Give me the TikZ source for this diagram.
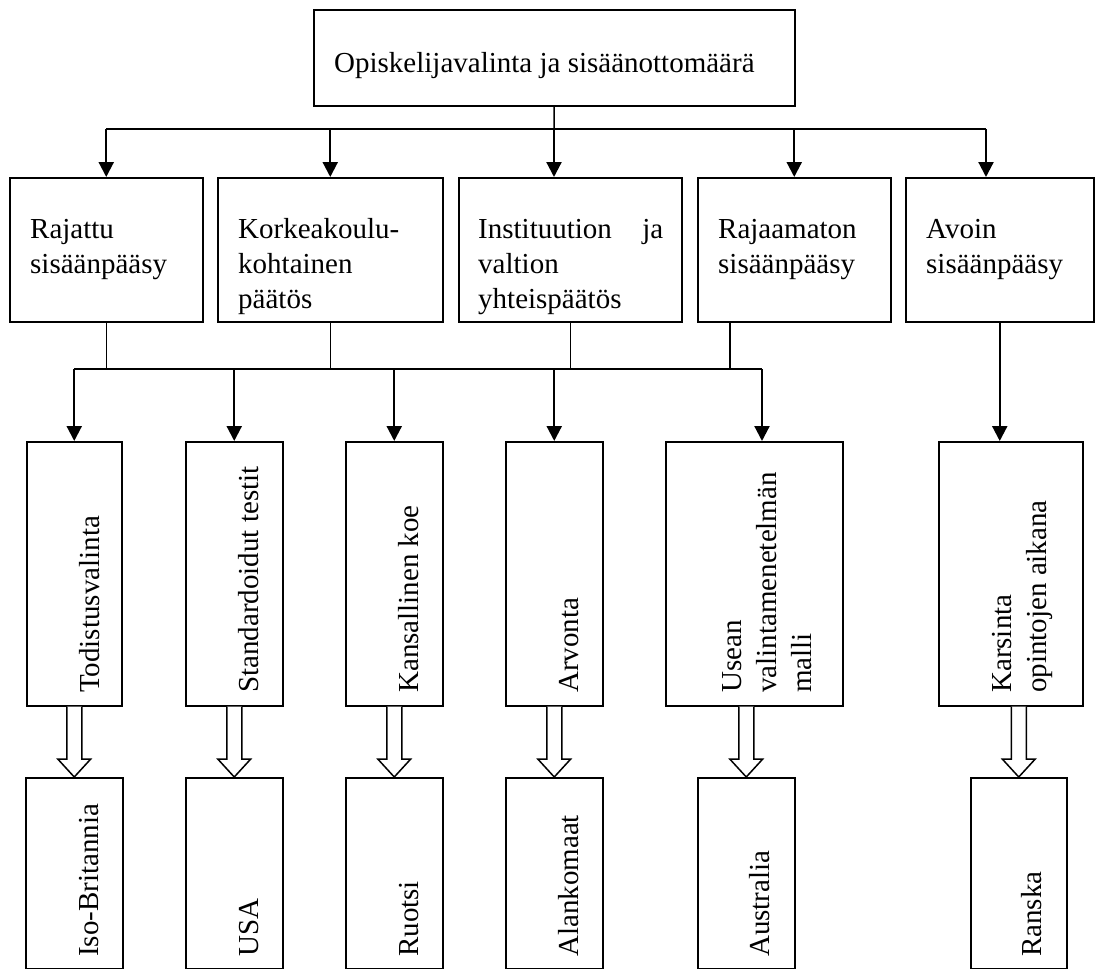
\documentclass[tikz,border=0pt]{standalone}
\usepackage{fontspec}
\setmainfont{Liberation Serif}
\usetikzlibrary{arrows.meta,calc}
\begin{document}
\begin{tikzpicture}[x=1pt,y=-1pt,
  box/.style={draw, line width=1.5pt, inner sep=0, anchor=north west},
  lbl/.style={inner sep=0, anchor=north west, align=left, font=\fontsize{29}{35}\selectfont},
  rlbl/.style={inner sep=0, anchor=base west, rotate=90, font=\fontsize{29}{35}\selectfont},
  rmlbl/.style={inner sep=0, anchor=north west, rotate=90, align=left, font=\fontsize{29}{35}\selectfont},
  conn/.style={line width=1.5pt},
  arr/.style={line width=2.2pt, -{Triangle[length=15pt,width=15pt]}},
  blk/.style={line width=1.5pt, fill=white, line join=miter}
]
\useasboundingbox (0,0) rectangle (1096,969);

% top box
\node[box, minimum width=481pt, minimum height=96pt] (top) at (313,9) {};
\node[inner sep=0, anchor=base west, font=\fontsize{29}{35}\selectfont] (ttop) at (334,72) {Opiskelijavalinta ja sisäänottomäärä};

% middle row
\node[box, minimum width=193pt, minimum height=144pt] (b1) at (9,177) {};
\node[box, minimum width=225pt, minimum height=144pt] (b2) at (217,177) {};
\node[box, minimum width=223pt, minimum height=144pt] (b3) at (458,177) {};
\node[box, minimum width=193pt, minimum height=144pt] (b4) at (697,177) {};
\node[box, minimum width=188pt, minimum height=144pt] (b5) at (905,177) {};
\node[lbl] (t1) at (30,213.5) {\strut Rajattu\\sisäänpääsy};
\node[lbl] (t2) at (238,213.5) {\strut Korkeakoulu-\\kohtainen\\päätös};
\node[lbl, text width=185pt] (t3) at (478,213.5) {\strut Instituution\hfill ja\\valtion\\yhteispäätös};
\node[lbl] (t4) at (718,213.5) {\strut Rajaamaton\\sisäänpääsy};
\node[lbl] (t5) at (926,213.5) {\strut Avoin\\sisäänpääsy};

% tall row
\node[box, minimum width=95pt, minimum height=264pt] (tA) at (26,441) {};
\node[box, minimum width=97pt, minimum height=264pt] (tB) at (185,441) {};
\node[box, minimum width=97pt, minimum height=264pt] (tC) at (345,441) {};
\node[box, minimum width=97pt, minimum height=264pt] (tD) at (505,441) {};
\node[box, minimum width=177pt, minimum height=264pt] (tE) at (665,441) {};
\node[box, minimum width=144pt, minimum height=264pt] (tF) at (938,441) {};
\node[rlbl] (xA) at (99,693) {Todistusvalinta};
\node[rlbl] (xB) at (258,693) {Standardoidut testit};
\node[rlbl] (xC) at (418,693) {Kansallinen koe};
\node[rlbl] (xD) at (578,693) {Arvonta};
\node[rmlbl] (xE) at (716.5,693) {\strut Usean\\valintamenetelmän\\malli};
\node[rmlbl] (xF) at (986.5,693) {\strut Karsinta\\opintojen aikana};

% bottom row
\node[box, minimum width=97pt, minimum height=191pt] (lA) at (25,777) {};
\node[box, minimum width=97pt, minimum height=191pt] (lB) at (185,777) {};
\node[box, minimum width=97pt, minimum height=191pt] (lC) at (345,777) {};
\node[box, minimum width=97pt, minimum height=191pt] (lD) at (505,777) {};
\node[box, minimum width=97pt, minimum height=191pt] (lE) at (697,777) {};
\node[box, minimum width=96pt, minimum height=191pt] (lF) at (970,777) {};
\node[rlbl] (yA) at (98,957) {Iso-Britannia};
\node[rlbl] (yB) at (258,957) {USA};
\node[rlbl] (yC) at (418,957) {Ruotsi};
\node[rlbl] (yD) at (578,957) {Alankomaat};
\node[rlbl] (yE) at (769,957) {Australia};
\node[rlbl] (yF) at (1041,957) {Ranska};

% upper connectors
\coordinate (j0) at (554,129);
\coordinate (j5) at (986,129);
\draw[conn] (top.south) -- (j0);
\draw[conn] (b1.north |- j0) -- (j5);
\draw[arr] (b1.north |- j0) -- (b1.north);
\draw[arr] (b2.north |- j0) -- (b2.north);
\draw[arr] (j0) -- (j0 |- b3.north);
\draw[arr] (b4.north |- j0) -- (b4.north);
\draw[arr] (j5) -- (j5 |- b5.north);

% lower connectors
\coordinate (k0) at (0,369);
\coordinate (k5) at (762,369);
\coordinate (f4) at ($(b4.south west)+(33,0)$);
\draw[conn] (b1.south) -- (b1.south |- k0);
\draw[conn] (b2.south) -- (b2.south |- k0);
\draw[conn] (b3.south) -- (b3.south |- k0);
\draw[conn] (f4) -- (f4 |- k0);
\draw[conn] (tA.north |- k0) -- (k5);
\draw[arr] (tA.north |- k0) -- (tA.north);
\draw[arr] (tB.north |- k0) -- (tB.north);
\draw[arr] (tC.north |- k0) -- (tC.north);
\draw[arr] (tD.north |- k0) -- (tD.north);
\draw[arr] (k5) -- (k5 |- tE.north);
\draw[arr] (b5.south) -- (b5.south |- tF.north);

% block arrows
\foreach \t/\l in {tA/lA, tB/lB, tC/lC, tD/lD, tE/lE, tF/lF}{
  \draw[blk] ($(\l.north |- \t.south)+(-7.5,0)$) -- ($(\l.north)+(-7.5,-18)$)
    -- ($(\l.north)+(-16.5,-18)$) -- (\l.north) -- ($(\l.north)+(16.5,-18)$)
    -- ($(\l.north)+(7.5,-18)$) -- ($(\l.north |- \t.south)+(7.5,0)$);
}
\end{tikzpicture}
\end{document}
